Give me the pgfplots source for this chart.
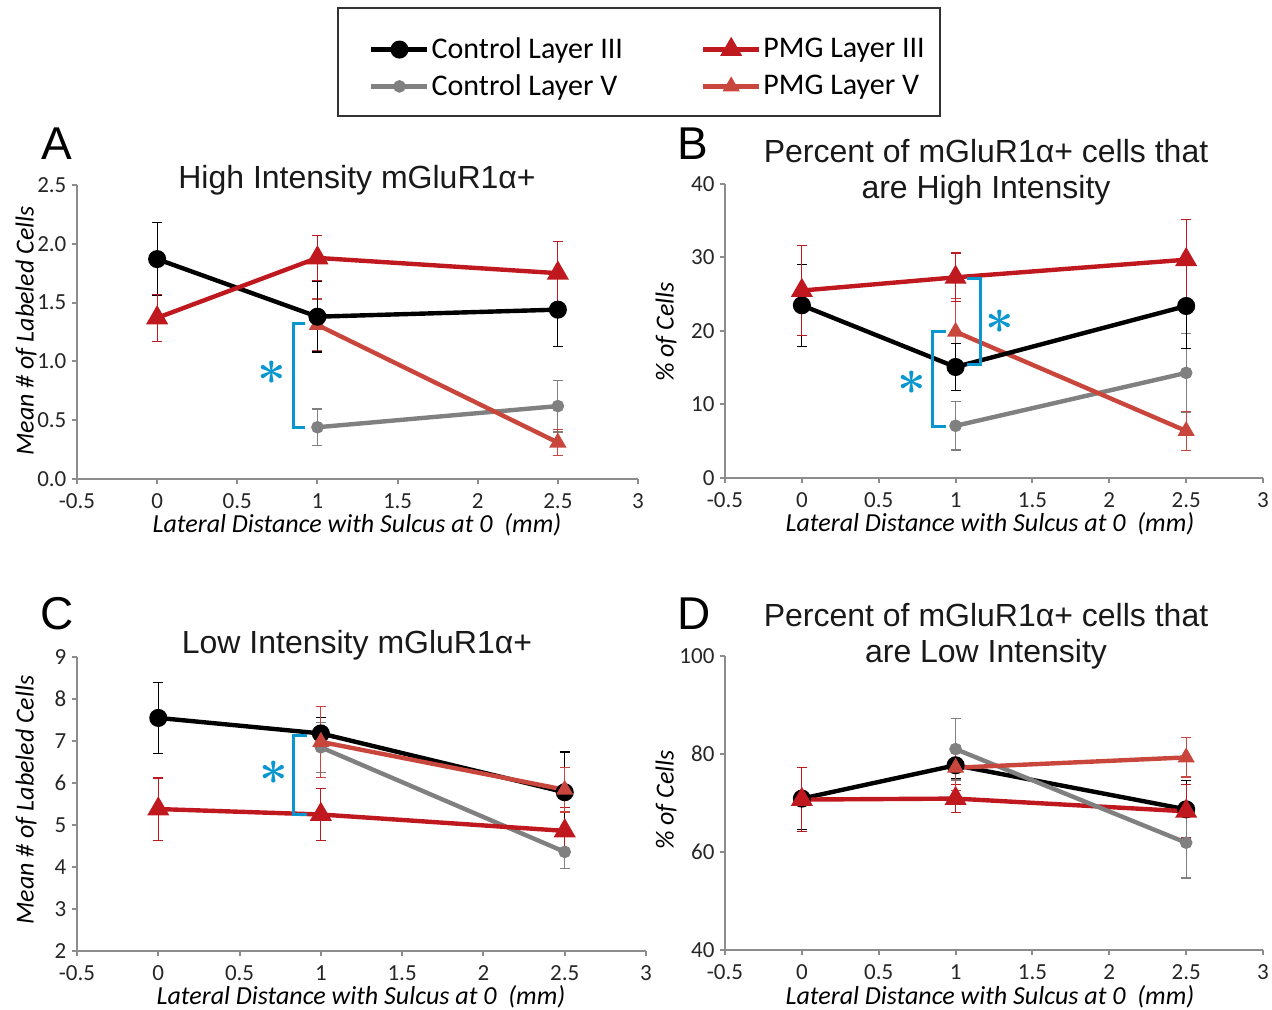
\documentclass[border=0pt]{standalone}
\usepackage{pgfplots}
\usepackage{pgfplotstable}
\pgfplotsset{compat=1.18}
\usepackage{fontspec}
\setmainfont{Carlito}
\newfontfamily\arialfont{Liberation Sans}
\definecolor{ctrlgray}{HTML}{808080}
\definecolor{pmgred}{HTML}{C0181F}
\definecolor{pmglight}{HTML}{C9463D}
\definecolor{sigcyan}{HTML}{0A96CF}
\definecolor{axisgray}{HTML}{8C8C8C}

% Panel A
\pgfplotstableread{
x y e
0 1.87 0.31
1 1.38 0.30
2.5 1.44 0.31
}\AcIII
\pgfplotstableread{
x y e
1 0.44 0.155
2.5 0.62 0.22
}\AcV
\pgfplotstableread{
x y e
0 1.37 0.20
1 1.88 0.19
2.5 1.75 0.27
}\ApIII
\pgfplotstableread{
x y e
1 1.31 0.22
2.5 0.31 0.11
}\ApV
% Panel B
\pgfplotstableread{
x y e
0 23.5 5.6
1 15.1 3.2
2.5 23.4 5.8
}\BcIII
\pgfplotstableread{
x y e
1 7.1 3.3
2.5 14.3 5.4
}\BcV
\pgfplotstableread{
x y e
0 25.5 6.1
1 27.3 3.3
2.5 29.7 5.5
}\BpIII
\pgfplotstableread{
x y e
1 19.9 4.5
2.5 6.4 2.7
}\BpV
% Panel C
\pgfplotstableread{
x y e
0 7.55 0.84
1 7.18 0.38
2.5 5.78 0.96
}\CcIII
\pgfplotstableread{
x y e
1 6.85 0.6
2.5 4.36 0.4
}\CcV
\pgfplotstableread{
x y e
0 5.38 0.74
1 5.25 0.62
2.5 4.86 0.55
}\CpIII
\pgfplotstableread{
x y e
1 6.98 0.85
2.5 5.84 0.53
}\CpV
% Panel D
\pgfplotstableread{
x y e
0 70.9 6.3
1 77.7 2.7
2.5 68.7 5.9
}\DcIII
\pgfplotstableread{
x y e
1 81.0 6.3
2.5 61.9 7.2
}\DcV
\pgfplotstableread{
x y e
0 70.7 6.5
1 70.9 2.9
2.5 68.3 5.4
}\DpIII
\pgfplotstableread{
x y e
1 77.2 4.6
2.5 79.3 4.0
}\DpV

\pgfplotsset{
  panel/.style={
    scale only axis, clip=false,
    axis x line*=bottom, axis y line*=left,
    axis line style={axisgray, line width=1pt},
    tick style={axisgray, line width=1pt},
    tick align=outside, major tick length=2.6pt,
    xmin=-0.5, xmax=3, xtick={-0.5,0,0.5,1,1.5,2,2.5,3},
    /pgf/number format/assume math mode=true,
    ticklabel style={font=\fontsize{11.5}{13}\selectfont, text=black!85},
    yticklabel style={inner sep=2.5pt},
    xticklabel style={inner sep=2.5pt, yshift=-2pt},
    anchor=south west,
  },
  errs/.style={error bars/.cd, y dir=both, y explicit,
    error bar style={line width=0.6pt, #1},
    error mark options={line width=0.6pt, #1, mark size=2.5pt, rotate=90}},
  ctrlIII/.style={black, line width=2.2pt, mark=*, mark size=3.4pt, mark options={solid, fill=black}},
  ctrlV/.style={ctrlgray, line width=2.2pt, mark=*, mark size=2pt, mark options={solid, fill=ctrlgray}},
  pmgIII/.style={pmgred, line width=2.2pt, mark=triangle*, mark size=4.2pt, mark options={solid, fill=pmgred}},
  pmgV/.style={pmglight, line width=2.2pt, mark=triangle*, mark size=2.8pt, mark options={solid, fill=pmglight}},
}

\begin{document}
\begin{tikzpicture}
\useasboundingbox (0pt,0pt) rectangle (636pt,505pt);

% Legend (hidden axis holding only the legend)
\begin{axis}[hide axis, scale only axis, width=301pt, height=54pt,
  at={(324pt,471pt)}, anchor=center, xmin=0, xmax=1, ymin=0, ymax=1,
  legend columns=2, legend cell align=left,
  legend image code/.code={\draw[#1] plot coordinates {(2pt,0pt) (16pt,0pt) (30pt,0pt)};},
  legend style={draw=none, fill=none, at={(0.5,0.5)}, anchor=center,
    font=\fontsize{15}{16.5}\selectfont, row sep=2.5pt,
    nodes={inner xsep=1pt},
    /tikz/every even column/.append style={column sep=38pt}}]
\addlegendimage{ctrlIII, mark repeat=2, mark phase=2}
\addlegendentry{Control Layer III}
\addlegendimage{pmgIII, mark repeat=2, mark phase=2}
\addlegendentry{PMG Layer III}
\addlegendimage{ctrlV, mark repeat=2, mark phase=2}
\addlegendentry{Control Layer V}
\addlegendimage{pmgV, mark repeat=2, mark phase=2}
\addlegendentry{PMG Layer V}
\end{axis}

% Panel A
\begin{axis}[panel, at={(38.5pt,265.5pt)}, width=280.5pt, height=147pt,
  ymin=0, ymax=2.5, ytick={0,0.5,1,1.5,2,2.5},
  yticklabel style={/pgf/number format/.cd, fixed, fixed zerofill, precision=1}]
\addplot[ctrlV, errs=ctrlgray] table[x=x, y=y, y error=e] {\AcV};
\addplot[pmgV, errs=pmglight] table[x=x, y=y, y error=e] {\ApV};
\addplot[ctrlIII, errs=black] table[x=x, y=y, y error=e] {\AcIII};
\addplot[pmgIII, errs=pmgred] table[x=x, y=y, y error=e] {\ApIII};
\draw[sigcyan, line width=1.5pt] (axis cs:0.922,1.318) -- (axis cs:0.848,1.318) -- (axis cs:0.848,0.442) -- (axis cs:0.922,0.442);
\end{axis}

% Panel B
\begin{axis}[panel, at={(362.5pt,266pt)}, width=269pt, height=147pt,
  ymin=0, ymax=40, ytick={0,10,20,30,40}]
\addplot[ctrlV, errs=ctrlgray] table[x=x, y=y, y error=e] {\BcV};
\addplot[pmgV, errs=pmglight] table[x=x, y=y, y error=e] {\BpV};
\addplot[ctrlIII, errs=black] table[x=x, y=y, y error=e] {\BcIII};
\addplot[pmgIII, errs=pmgred] table[x=x, y=y, y error=e] {\BpIII};
\draw[sigcyan, line width=1.5pt] (axis cs:0.938,19.9) -- (axis cs:0.847,19.9) -- (axis cs:0.847,6.94) -- (axis cs:0.938,6.94);
\draw[sigcyan, line width=1.5pt] (axis cs:1.074,27.2) -- (axis cs:1.165,27.2) -- (axis cs:1.165,15.4) -- (axis cs:1.074,15.4);
\end{axis}

% Panel C
\begin{axis}[panel, at={(38.5pt,29.5pt)}, width=284.5pt, height=147pt,
  ymin=2, ymax=9, ytick={2,3,4,5,6,7,8,9}]
\addplot[ctrlV, errs=ctrlgray] table[x=x, y=y, y error=e] {\CcV};
\addplot[pmgIII, errs=pmgred] table[x=x, y=y, y error=e] {\CpIII};
\addplot[ctrlIII, errs=black] table[x=x, y=y, y error=e] {\CcIII};
\addplot[pmgV, errs=pmglight] table[x=x, y=y, y error=e] {\CpV};
\draw[sigcyan, line width=1.5pt] (axis cs:0.915,7.14) -- (axis cs:0.829,7.14) -- (axis cs:0.829,5.24) -- (axis cs:0.915,5.24);
\end{axis}

% Panel D
\begin{axis}[panel, at={(362.5pt,30pt)}, width=269pt, height=147pt,
  ymin=40, ymax=100, ytick={40,60,80,100}]
\addplot[ctrlIII, errs=black] table[x=x, y=y, y error=e] {\DcIII};
\addplot[pmgIII, errs=pmgred] table[x=x, y=y, y error=e] {\DpIII};
\addplot[ctrlV, errs=ctrlgray] table[x=x, y=y, y error=e] {\DcV};
\addplot[pmgV, errs=pmglight] table[x=x, y=y, y error=e] {\DpV};
\end{axis}

\begin{scope}[x=0.5pt, y=-0.5pt, shift={(0pt,505pt)}]
% Legend frame
\draw[line width=0.7pt, black!80] (338,8) rectangle (940,116);

% Panel letters
\foreach \L/\X/\Y in {A/57/160, B/693/160, C/57/630, D/694/630}
  \node[anchor=base, inner sep=0pt, font=\arialfont\fontsize{23}{23}\selectfont] at (\X,\Y) {\L};

% Titles
\node[anchor=base, inner sep=0pt, font=\arialfont\fontsize{16}{18}\selectfont, text=black!90] at (357,189) {High Intensity mGluR1α+};
\node[anchor=base, inner sep=0pt, align=center, font=\arialfont\fontsize{16}{18}\selectfont, text=black!90] at (986,199) {Percent of mGluR1α+ cells that\\are High Intensity};
\node[anchor=base, inner sep=0pt, font=\arialfont\fontsize{16}{18}\selectfont, text=black!90] at (357,654) {Low Intensity mGluR1α+};
\node[anchor=base, inner sep=0pt, align=center, font=\arialfont\fontsize{16}{18}\selectfont, text=black!90] at (986,663) {Percent of mGluR1α+ cells that\\are Low Intensity};

% Axis labels
\foreach \X/\Y in {357/533, 990/532, 361/1005, 990/1005}
  \node[anchor=base, inner sep=0pt, font=\itshape\fontsize{13}{15}\selectfont] at (\X,\Y) {Lateral Distance with Sulcus at 0\ \ (mm)};
\node[rotate=90, inner sep=0pt, font=\itshape\fontsize{13}{15}\selectfont] at (26,331) {Mean \# of Labeled Cells};
\node[rotate=90, inner sep=0pt, font=\itshape\fontsize{13}{15}\selectfont] at (666,332) {\% of Cells};
\node[rotate=90, inner sep=0pt, font=\itshape\fontsize{13}{15}\selectfont] at (26,800) {Mean \# of Labeled Cells};
\node[rotate=90, inner sep=0pt, font=\itshape\fontsize{13}{15}\selectfont] at (666,800) {\% of Cells};

% Significance asterisks
\foreach \X/\Y in {272/373, 912/383, 1000/322, 274/773}
  \node[inner sep=0pt, text=sigcyan, font=\fontsize{28}{28}\selectfont\boldmath] at (\X,\Y) {$\ast$};
\end{scope}
\end{tikzpicture}
\end{document}
